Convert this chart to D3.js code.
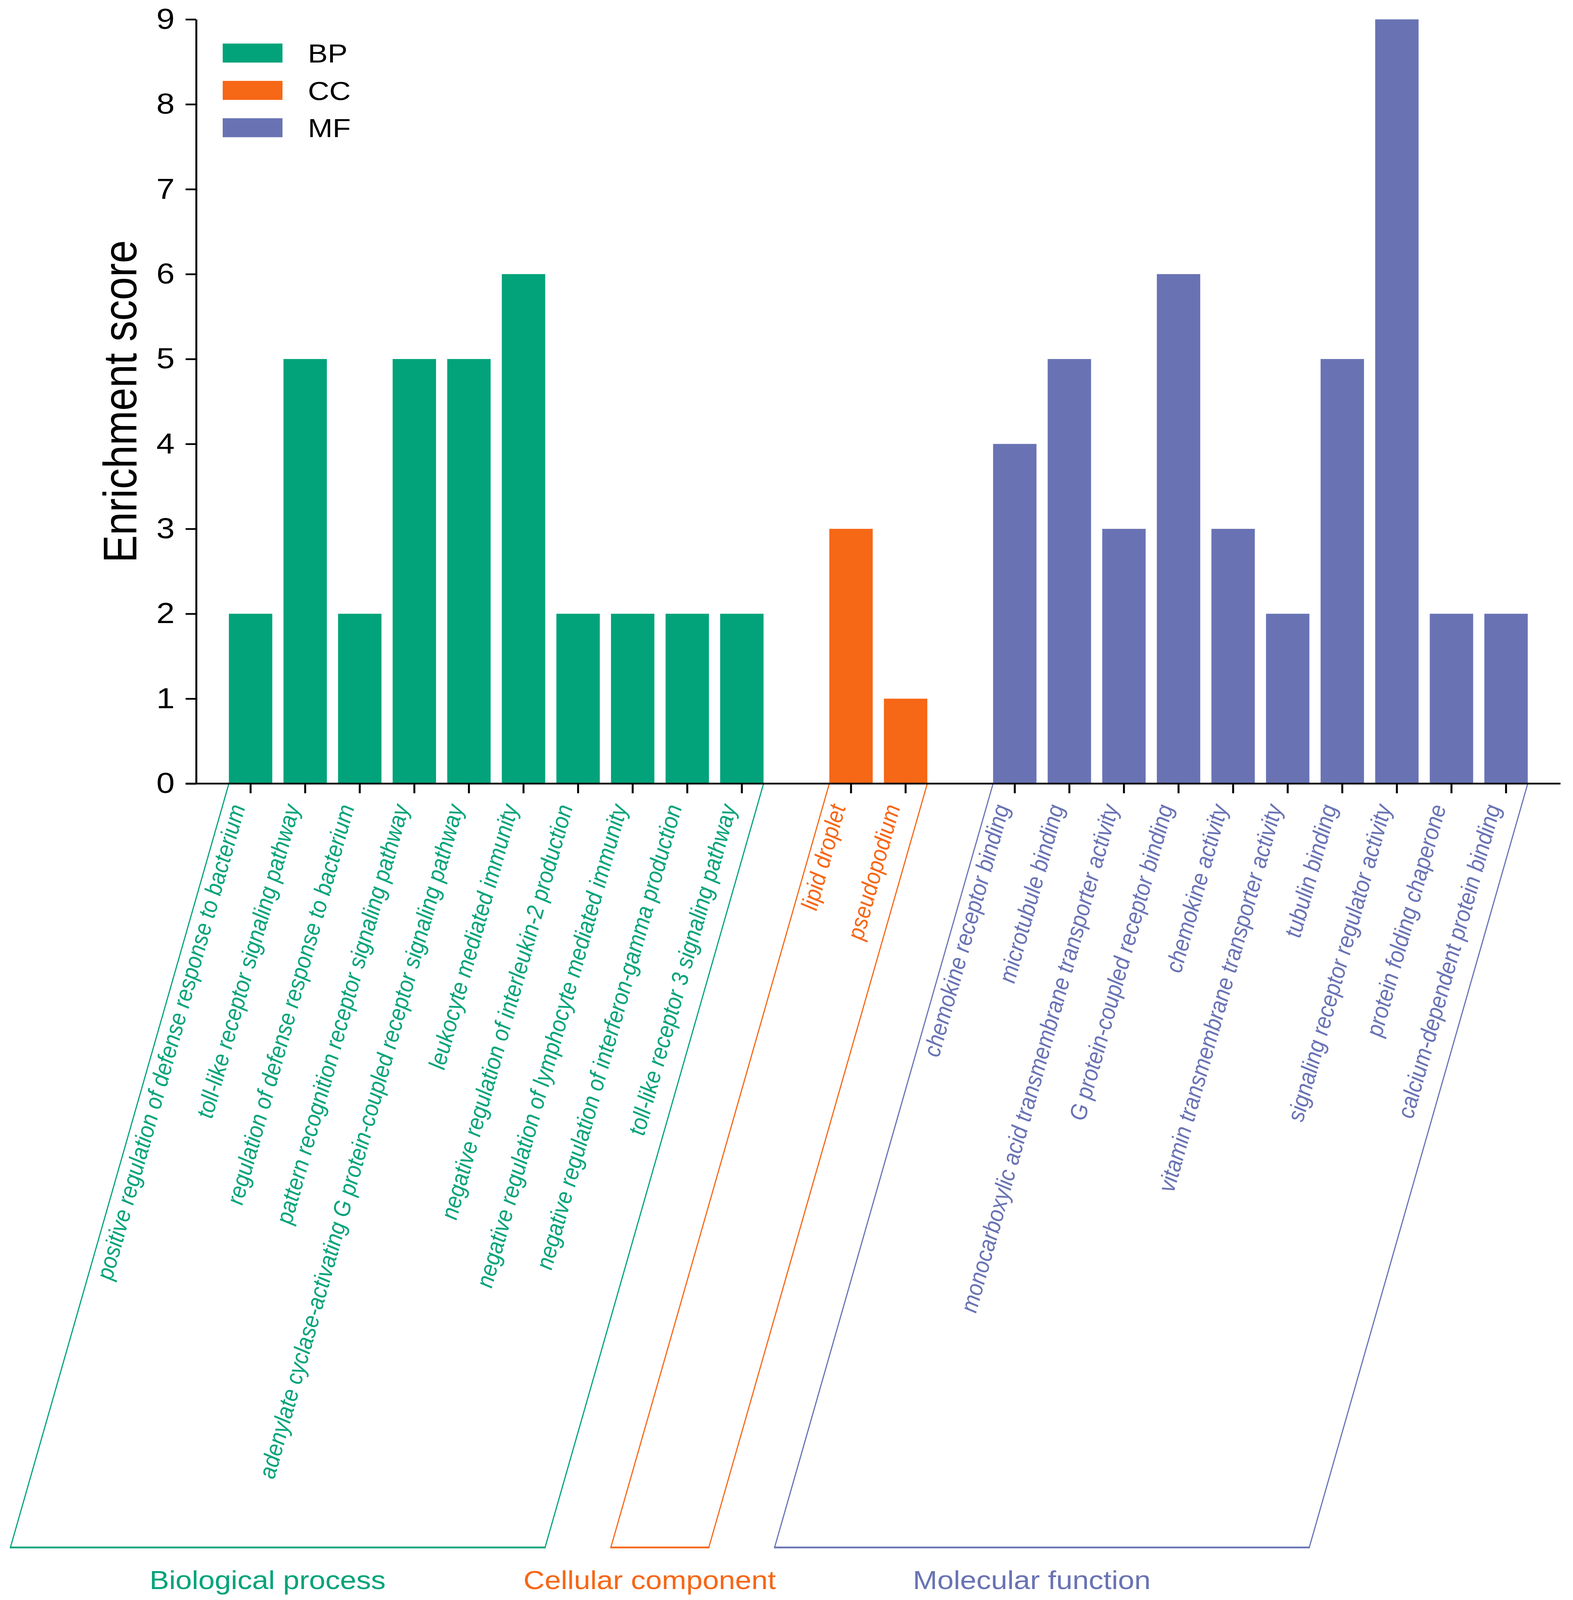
<!DOCTYPE html>
<html>
<head>
<meta charset="utf-8">
<script src="https://cdn.jsdelivr.net/npm/d3@7"></script>
<style>
html, body { margin: 0; padding: 0; background: #fff; overflow: hidden; }
svg { display: block; }
text { font-family: "Liberation Sans", Arial, sans-serif; }
</style>
</head>
<body>
<script>
// GO terms and enrichment scores
var bpTerms = [
  "positive regulation of defense response to bacterium",
  "toll-like receptor signaling pathway",
  "regulation of defense response to bacterium",
  "pattern recognition receptor signaling pathway",
  "adenylate cyclase-activating G protein-coupled receptor signaling pathway",
  "leukocyte mediated immunity",
  "negative regulation of interleukin-2 production",
  "negative regulation of lymphocyte mediated immunity",
  "negative regulation of interferon-gamma production",
  "toll-like receptor 3 signaling pathway"
];
var bpScores = [2, 5, 2, 5, 5, 6, 2, 2, 2, 2];

var ccTerms = ["lipid droplet", "pseudopodium"];
var ccScores = [3, 1];

var mfTerms = [
  "chemokine receptor binding",
  "microtubule binding",
  "monocarboxylic acid transmembrane transporter activity",
  "G protein-coupled receptor binding",
  "chemokine activity",
  "vitamin transmembrane transporter activity",
  "tubulin binding",
  "signaling receptor regulator activity",
  "protein folding chaperone",
  "calcium-dependent protein binding"
];
var mfScores = [4, 5, 3, 6, 3, 2, 5, 9, 2, 2];

var groupKeys = ["BP", "CC", "MF"];
var groupNames = ["Biological process", "Cellular component", "Molecular function"];
var groupColors = ["#02a37a", "#f66716", "#6973b4"];
var yTicks = [0, 1, 2, 3, 4, 5, 6, 7, 8, 9];

// drawing is laid out on a 4026 x 4629 canvas, then fitted to the window
var w = 4026;
var h = 4629;

var groups = [
  {terms: bpTerms, scores: bpScores},
  {terms: ccTerms, scores: ccScores},
  {terms: mfTerms, scores: mfScores}
];

var rows = [];
var domain = [];
groups.forEach(function(g, gi){
  if (gi > 0) domain.push("gap" + gi);
  g.terms.forEach(function(t, i){
    rows.push({term: t, score: g.scores[i], group: gi});
    domain.push(t);
  });
});

var xScale = d3.scaleBand()
  .domain(domain)
  .range([502, 3994])
  .paddingInner(0.205)
  .paddingOuter(0.6);

var yScale = d3.scaleLinear()
  .domain([0, 9])
  .range([2267, 56]);

var svg = d3.select("body")
  .append("svg")
  .attr("width", window.innerWidth || w)
  .attr("height", window.innerHeight || h)
  .attr("viewBox", "0 0 " + w + " " + h)
  .attr("preserveAspectRatio", "none")
  .style("background", "#fff");

// group brackets under the labels
var slant = Math.tan((90 - 75.8) * Math.PI / 180);
var bracketBottom = 4477;
groups.forEach(function(g, gi){
  var left = xScale(g.terms[0]);
  var right = xScale(g.terms[g.terms.length - 1]) + xScale.bandwidth();
  var top = yScale(0);
  var shift = (bracketBottom - top) * slant;
  var b = svg.append("g").attr("stroke", groupColors[gi]).attr("fill", "none");
  b.append("line")
    .attr("x1", left).attr("y1", top)
    .attr("x2", left - shift).attr("y2", bracketBottom)
    .attr("stroke-width", 3);
  b.append("line")
    .attr("x1", right).attr("y1", top)
    .attr("x2", right - shift).attr("y2", bracketBottom)
    .attr("stroke-width", 3);
  b.append("line")
    .attr("x1", left - shift - 1.5).attr("y1", bracketBottom)
    .attr("x2", right - shift + 1.5).attr("y2", bracketBottom)
    .attr("stroke-width", 5);

  svg.append("text")
    .attr("x", (left + right) / 2 - shift - 26)
    .attr("y", 4597)
    .attr("text-anchor", "middle")
    .attr("font-size", "75px")
    .attr("fill", groupColors[gi])
    .text(groupNames[gi]);
});

// bars
svg.selectAll("rect.bar")
  .data(rows)
  .enter()
  .append("rect")
  .attr("class", "bar")
  .attr("x", function(d){ return xScale(d.term); })
  .attr("y", function(d){ return yScale(d.score); })
  .attr("width", xScale.bandwidth())
  .attr("height", function(d){ return yScale(0) - yScale(d.score); })
  .attr("fill", function(d){ return groupColors[d.group]; });

// x axis
var termGroup = {};
rows.forEach(function(d){ termGroup[d.term] = d.group; });

var xAxis = d3.axisBottom(xScale)
  .tickValues(rows.map(function(d){ return d.term; }))
  .tickSize(28)
  .tickSizeOuter(0);

var gx = svg.append("g")
  .attr("transform", "translate(0," + yScale(0) + ")")
  .call(xAxis);

gx.select(".domain")
  .attr("d", "M" + (502 - 27) + ",0H3994");

gx.selectAll(".tick text")
  .attr("x", 0)
  .attr("y", 0)
  .attr("dy", null)
  .attr("text-anchor", "end")
  .attr("transform", "translate(-13,67) rotate(-76)")
  .attr("font-size", "61px")
  .attr("font-style", "italic")
  .attr("font-family", "'Liberation Sans', Arial, sans-serif")
  .attr("fill", function(d){ return groupColors[termGroup[d]]; });

// y axis
var yAxis = d3.axisLeft(yScale)
  .tickValues(yTicks)
  .tickSize(27)
  .tickPadding(28)
  .tickSizeOuter(0);

var gy = svg.append("g")
  .attr("transform", "translate(502,0)")
  .call(yAxis);

gy.selectAll(".tick text")
  .attr("font-size", "84px")
  .attr("font-family", "'Liberation Sans', Arial, sans-serif")
  .attr("fill", "#000");

svg.selectAll(".domain, .tick line")
  .attr("stroke", "#000")
  .attr("stroke-width", 5);

svg.append("text")
  .attr("transform", "translate(349," + ((yScale(0) + yScale(9)) / 2) + ") rotate(-90)")
  .attr("text-anchor", "middle")
  .attr("font-size", "120px")
  .attr("fill", "#000")
  .text("Enrichment score");

// legend
var legend = svg.selectAll("g.legend")
  .data(groupKeys)
  .enter()
  .append("g")
  .attr("class", "legend")
  .attr("transform", function(d, i){ return "translate(570," + (126 + i * 108) + ")"; });

legend.append("rect")
  .attr("width", 153)
  .attr("height", 55)
  .attr("fill", function(d, i){ return groupColors[i]; });

legend.append("text")
  .attr("x", 218)
  .attr("y", 55)
  .attr("font-size", "76px")
  .attr("fill", "#000")
  .text(function(d){ return d; });
</script>
</body>
</html>
